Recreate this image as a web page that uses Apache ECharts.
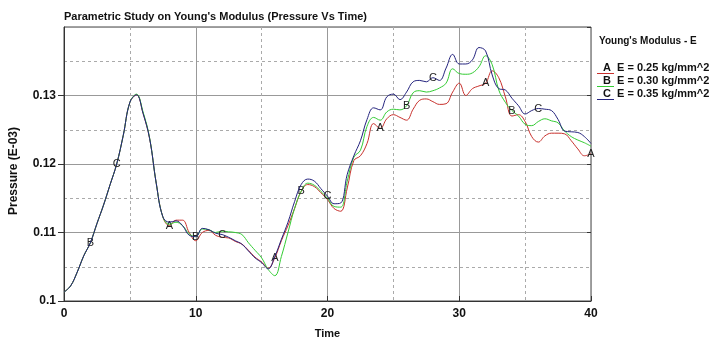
<!DOCTYPE html>
<html>
<head>
<meta charset="utf-8">
<script src="https://cdn.jsdelivr.net/npm/echarts@6/dist/echarts.min.js"></script>
<style>html,body{margin:0;padding:0;background:#fff}#c{width:714px;height:339px}</style>
</head>
<body>
<div id="c"></div>
<script>
var time = [0,0.5,1,1.5,2,2.5,3,3.5,4,4.5,5,5.5,6,6.5,7,7.5,8,8.5,9,9.5,10,10.5,11,11.5,12,12.5,13,13.5,14,14.5,15,15.5,16,16.5,17,17.5,18,18.5,19,19.5,20,20.5,21,21.5,22,22.5,23,23.5,24,24.5,25,25.5,26,26.5,27,27.5,28,28.5,29,29.5,30,30.5,31,31.5,32,32.5,33,33.5,34,34.5,35,35.5,36,36.5,37,37.5,38,38.5,39,39.5,40];

var seriesA = [0.1013,0.1022,0.1042,0.1066,0.1085,0.1113,0.1140,0.1170,0.1200,0.1242,0.1290,0.1301,0.1274,0.1237,0.1172,0.1123,
0.1110,0.1118,0.1118,0.1100,0.1088,0.1100,0.1103,0.1096,0.1093,0.1092,0.1087,0.1083,0.1074,0.1064,0.1057,0.1048,
0.1063,0.1088,0.1110,0.1135,0.1160,0.1170,0.1167,0.1158,0.1148,0.1135,0.1131,0.1165,0.1205,0.1212,0.1230,0.1259,
0.1252,0.1266,0.1272,0.1268,0.1264,0.1280,0.1293,0.1295,0.1291,0.1287,0.1288,0.1305,0.1318,0.1300,0.1310,0.1314,
0.1318,0.1336,0.1326,0.1298,0.1270,0.1272,0.1262,0.1240,0.1232,0.1241,0.1245,0.1245,0.1244,0.1234,0.1222,0.1212,0.1215];

var seriesB = [0.1013,0.1022,0.1042,0.1066,0.1085,0.1113,0.1140,0.1170,0.1200,0.1242,0.1290,0.1302,0.1276,0.1238,0.1172,0.1123,
0.1112,0.1115,0.1110,0.1098,0.1094,0.1105,0.1104,0.1100,0.1102,0.1101,0.1100,0.1097,0.1085,0.1074,0.1063,0.1046,
0.1037,0.1065,0.1100,0.1135,0.1160,0.1172,0.1169,0.1160,0.1150,0.1138,0.1137,0.1175,0.1210,0.1220,0.1255,0.1268,
0.1264,0.1276,0.1280,0.1279,0.1285,0.1304,0.1307,0.1305,0.1307,0.1311,0.1318,0.1339,0.1332,0.1331,0.1333,0.1342,
0.1358,0.1345,0.1308,0.1290,0.1278,0.1270,0.1258,0.1256,0.1262,0.1266,0.1263,0.1260,0.1248,0.1240,0.1235,0.1231,0.1226];

var seriesC = [0.1013,0.1022,0.1042,0.1066,0.1085,0.1113,0.1140,0.1170,0.1200,0.1242,0.1290,0.1301,0.1274,0.1237,0.1172,0.1123,
0.1115,0.1117,0.1110,0.1096,0.1094,0.1106,0.1104,0.1099,0.1097,0.1093,0.1088,0.1083,0.1073,0.1063,0.1056,0.1047,
0.1065,0.1090,0.1115,0.1145,0.1170,0.1178,0.1175,0.1164,0.1153,0.1142,0.1143,0.1185,0.1212,0.1234,0.1265,0.1282,
0.1279,0.1298,0.1302,0.1294,0.1305,0.1320,0.1322,0.1320,0.1326,0.1322,0.1340,0.1360,0.1346,0.1346,0.1352,0.1370,
0.1365,0.1330,0.1310,0.1308,0.1296,0.1285,0.1273,0.1278,0.1281,0.1280,0.1278,0.1265,0.1248,0.1247,0.1246,0.1240,0.1230];

var names = ['A  E = 0.25 kg/mm^2', 'B  E = 0.30 kg/mm^2', 'C  E = 0.35 kg/mm^2'];
var letters = ['A', 'B', 'C'];
var labelTimesA = [8, 16, 24, 32, 40];
var labelTimesB = [2, 10, 18, 26, 34];
var labelTimesC = [4, 12, 20, 28, 36];
var colors = ['#c8302c', '#33cc33', '#24237e'];

function build(values, letter, labelTimes) {
  return time.map(function (t, i) {
    var item = { value: [t, values[i]] };
    if (labelTimes.indexOf(t) >= 0) {
      item.label = { show: true, formatter: letter };
    }
    return item;
  });
}

var allVals = [seriesA, seriesB, seriesC];
var allLabels = [labelTimesA, labelTimesB, labelTimesC];
var font = 'Liberation Sans, Arial, sans-serif';

var series = allVals.map(function (v, k) {
  return {
    name: names[k],
    type: 'line',
    data: build(v, letters[k], allLabels[k]),
    smooth: 0.4,
    symbol: 'circle',
    symbolSize: 0,
    showSymbol: true,
    showAllSymbol: true,
    animation: false,
    z: 2 + k,
    lineStyle: { color: colors[k], width: 1 },
    itemStyle: { color: colors[k] },
    label: {
      show: false,
      position: 'inside',
      color: '#222',
      fontFamily: font,
      fontSize: 11
    },
    emphasis: { disabled: true }
  };
});

var chart = echarts.init(document.getElementById('c'), null, { renderer: 'canvas' });
chart.setOption({
  animation: false,
  backgroundColor: '#fff',
  color: colors,
  title: [
    { text: "Parametric Study on Young's Modulus (Pressure Vs Time)", left: 64, top: 11, padding: 0,
      textStyle: { fontFamily: font, fontSize: 11, fontWeight: 'bold', color: '#111' } },
    { text: "Young's Modulus - E", left: 599, top: 36, padding: 0,
      textStyle: { fontFamily: font, fontSize: 10, fontWeight: 'bold', color: '#111' } }
  ],
  legend: {
    orient: 'vertical',
    left: 597, top: 62, padding: 0,
    itemWidth: 17, itemHeight: 12, itemGap: 1,
    icon: 'path://M0,0 L17,0 L17,0 Z M0,11 L17,11 L17,12 L0,12 Z',
    selectedMode: false,
    textStyle: { fontFamily: font, fontSize: 11, fontWeight: 'bold', color: '#111', lineHeight: 12, padding: [0, 0, 0, -16] },
    data: names
  },
  grid: { left: 64, right: 123, top: 27, bottom: 38, show: true, borderColor: '#444', borderWidth: 1,
    containLabel: false, outerBoundsMode: 'none' },
  xAxis: {
    type: 'value', min: 0, max: 40, interval: 10,
    name: 'Time', nameLocation: 'middle', nameGap: 27,
    nameTextStyle: { fontFamily: font, fontSize: 11, fontWeight: 'bold', color: '#111' },
    axisLine: { lineStyle: { color: '#333' } },
    axisTick: { inside: true, length: 5, lineStyle: { color: '#333' } },
    axisLabel: { fontFamily: font, fontSize: 12, fontWeight: 'bold', color: '#111', margin: 7 },
    splitLine: { show: true, lineStyle: { color: '#999', width: 1 } },
    minorTick: { show: false, splitNumber: 2 },
    minorSplitLine: { show: true, lineStyle: { color: '#aaa', type: [3, 3], width: 1 } }
  },
  yAxis: [{
    type: 'value', min: 0.1, max: 0.14, interval: 0.01,
    name: 'Pressure (E-03)', nameLocation: 'middle', nameGap: 44,
    nameTextStyle: { fontFamily: font, fontSize: 12, fontWeight: 'bold', color: '#111', padding: [0, 14, 0, 0] },
    axisLine: { show: true, lineStyle: { color: '#333' } },
    axisTick: { show: true, inside: false, length: 6, lineStyle: { color: '#333' } },
    axisLabel: { fontFamily: font, fontSize: 12, fontWeight: 'bold', color: '#111', margin: 8, showMaxLabel: false,
      formatter: function (v) { return String(+v.toFixed(2)); } },
    splitLine: { show: true, lineStyle: { color: '#999', width: 1 } },
    minorTick: { show: false, splitNumber: 2 },
    minorSplitLine: { show: true, lineStyle: { color: '#aaa', type: [3, 3], width: 1 } }
  }, {
    type: 'value', min: 0.1, max: 0.14, interval: 0.01, position: 'right',
    axisLine: { show: false },
    axisTick: { show: true, inside: true, length: 4, lineStyle: { color: '#333' } },
    axisLabel: { show: false },
    splitLine: { show: false }
  }],
  series: series
});
</script>
</body>
</html>
